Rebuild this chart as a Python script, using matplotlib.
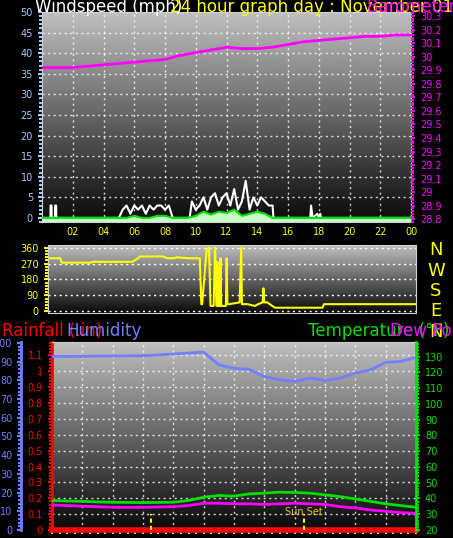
import numpy as np
import matplotlib.pyplot as plt
from matplotlib.ticker import MultipleLocator

W, H = 453, 538

hours = list(range(25))
pressure = [29.92, 29.92, 29.92, 29.93, 29.94, 29.95, 29.96, 29.97, 29.98, 30.01, 30.03, 30.05, 30.07,
            30.06, 30.06, 30.07, 30.09, 30.11, 30.12, 30.13, 30.14, 30.15, 30.15, 30.16, 30.16]

gust_t = [0, 0.55, 0.56, 0.62, 0.63, 0.84, 0.85, 0.92, 0.93,
          5.0, 5.25, 5.5, 5.75, 6.0, 6.25, 6.5, 6.75, 7.0, 7.25, 7.5, 7.75, 8.0, 8.25, 8.5,
          9.6, 9.75, 10.0, 10.25, 10.5, 10.75, 11.0, 11.25, 11.5, 11.75, 12.0, 12.25, 12.5, 12.75,
          13.0, 13.25, 13.5, 13.75, 14.0, 14.25, 14.5, 14.75, 15.0, 15.05,
          17.45, 17.5, 17.6, 17.9, 18.0, 18.1, 18.15, 24]
gust_v = [0, 0, 3, 3, 0, 0, 3, 3, 0,
          0, 2, 3, 1, 3, 2, 3, 1, 3, 2, 3, 3, 2, 3, 0,
          0, 4, 2, 3, 5, 2, 5, 6, 3, 5, 6, 3, 7, 2,
          4, 9, 2, 5, 3, 5, 4, 3, 3, 0,
          0, 3, 0, 1, 0, 1, 0, 0]
avg_t = [0, 5.5, 6.0, 6.5, 7.0, 7.5, 8.0, 8.5, 9.5, 10.0, 10.5, 11.0, 11.5, 12.0, 12.5, 13.0,
         13.5, 14.0, 14.5, 15.0, 24]
avg_v = [0, 0, 0.5, 0, 0, 0.5, 0.5, 0, 0, 0.5, 1.5, 0.8, 1.5, 1.2, 2.0, 0.5, 1.0, 1.5, 1.0, 0, 0]

dir_t = [0, 0.8, 0.9, 2.8, 2.9, 5.5, 5.8, 6.0, 7.5, 7.8, 8.2, 8.4, 9.2, 9.9, 10.0, 10.05, 10.3, 10.35,
         10.5, 10.6, 10.8, 10.9, 11.0, 11.05, 11.1, 11.2, 11.25, 11.3, 11.6, 11.65, 11.7, 11.8, 12.5,
         12.6, 12.65, 12.7, 13.0, 13.5, 13.7, 14.0, 14.05, 14.1, 14.3, 14.8, 17.9, 18.0, 24]
dir_v = [300, 300, 275, 275, 280, 280, 295, 310, 310, 300, 300, 305, 300, 300, 40, 40, 300, 350,
         360, 30, 30, 360, 30, 280, 30, 30, 300, 30, 30, 300, 40, 40, 50, 360, 40, 40, 40, 30, 40, 50,
         130, 50, 50, 20, 20, 40, 40]

humidity = [92.8, 92.8, 92.8, 93.0, 93.0, 93.1, 93.2, 93.6, 94.1, 94.6, 95.1, 88.3, 86.4, 85.9,
            82.0, 80.3, 79.4, 81.2, 79.9, 81.2, 83.8, 85.6, 89.6, 90.1, 92.3]
temperature = [38.7, 38.4, 38.2, 37.8, 37.6, 37.5, 37.4, 37.5, 37.6, 38.7, 40.8, 41.9, 41.5, 42.9,
               43.4, 44.0, 43.8, 43.4, 42.3, 41.2, 39.7, 38.2, 36.6, 35.5, 34.4]
dewpoint = [35.9, 35.5, 35.1, 34.8, 34.4, 34.4, 34.4, 34.6, 34.8, 35.5, 37.0, 37.0, 36.6, 36.6,
            36.2, 36.6, 37.0, 36.6, 36.2, 34.8, 34.0, 32.7, 31.9, 31.0, 30.6]
rain_t = [0, 24]
rain_v = [0, 0]
sun_events = [6.5, 16.6]
hour_labels = ['02', '04', '06', '08', '10', '12', '14', '16', '18', '20', '22', '00']

fig = plt.figure(figsize=(W / 100, H / 100), dpi=100, facecolor='black')


def axes_px(x0, y0, x1, y1):
    return fig.add_axes([x0 / W, 1 - y1 / H, (x1 - x0) / W, (y1 - y0) / H])


def gradient(ax):
    g = np.linspace(0, 1, 256).reshape(-1, 1)
    ax.imshow(g, cmap='gray', vmin=-0.05, vmax=1.35, aspect='auto', extent=[0, 1, 0, 1],
              transform=ax.transAxes, zorder=0, origin='lower')


def style(ax, color):
    ax.set_facecolor('black')
    for s in ax.spines.values():
        s.set_color('#d0d0d0')
    ax.tick_params(colors=color, labelsize=7, length=3, width=1.5)
    ax.tick_params(which='minor', colors=color, length=2, width=1.5)
    ax.set_xlim(0, 24)


def dotted_grid(ax):
    ax.grid(True, color='white', linestyle=(0, (1.5, 2.5)), linewidth=1, alpha=0.8)


# --- wind / pressure panel
ax1 = axes_px(42, 12, 411, 222)
style(ax1, '#a8c8ff')
gradient(ax1)
ax1.set_ylim(-1, 50)
ax1.yaxis.set_major_locator(MultipleLocator(5))
ax1.yaxis.set_minor_locator(MultipleLocator(1))
ax1.set_xticks(range(2, 25, 2))
ax1.set_xticklabels(hour_labels)
ax1.tick_params(axis='x', colors='yellow', length=0)
for lab in ax1.get_xticklabels():
    lab.set_color('yellow')
dotted_grid(ax1)
ax1.axhline(0, color='white', lw=2, zorder=2)
ax1.fill_between(avg_t, -1, avg_v, color='#c8ffc8', zorder=2)
ax1.plot(gust_t, gust_v, color='white', lw=1.5, zorder=3)
ax1.plot(avg_t, avg_v, color='#00e000', lw=1.5, zorder=4)
ax1b = ax1.twinx()
ax1b.set_ylim(28.78, 30.33)
ax1b.yaxis.set_major_locator(MultipleLocator(0.1))
ax1b.yaxis.set_minor_locator(MultipleLocator(0.02))
ax1b.tick_params(colors='magenta', labelsize=7, length=3, width=1.5)
ax1b.tick_params(which='minor', colors='magenta', length=2, width=1.5)
ax1b.yaxis.set_major_formatter(plt.FuncFormatter(lambda v, p: f'{v:.1f}'.replace('30.0', '30').replace('29.0', '29')))
for s in ax1b.spines.values():
    s.set_visible(False)
ax1b.plot(hours, pressure, color='magenta', lw=2)

fig.text(35 / W, 1 - 7 / H, 'Windspeed (mph)', color='white', fontsize=12, va='center')
fig.text(170 / W, 1 - 7 / H, '24 hour graph day : November 01 2025', color='yellow', fontsize=12, va='center')
fig.text(367 / W, 1 - 7 / H, 'Barometer (in)', color='magenta', fontsize=12, va='center')

# --- wind direction panel
ax2 = axes_px(48, 245, 416, 313)
style(ax2, 'yellow')
gradient(ax2)
ax2.set_ylim(-10, 375)
ax2.set_yticks([0, 90, 180, 270, 360])
ax2.yaxis.set_minor_locator(MultipleLocator(18))
ax2.set_xticks([])
ax2.grid(True, axis='y', color='white', linestyle=(0, (1.5, 2.5)), linewidth=1)
ax2.plot(dir_t, dir_v, color='yellow', lw=1.5)
for i, c in enumerate('NWSEN'):
    fig.text(436 / W, 1 - (250 + i * 20.5) / H, c, color='yellow', fontsize=13, ha='center', va='center')

# --- temperature / humidity / rain panel
ax3 = axes_px(52, 342, 416, 530)
style(ax3, 'red')
gradient(ax3)
ax3.set_ylim(0, 1.185)
ax3.yaxis.set_major_locator(MultipleLocator(0.1))
ax3.yaxis.set_minor_locator(MultipleLocator(0.02))
ax3.yaxis.set_major_formatter(plt.FuncFormatter(lambda v, p: f'{v:.1f}'.replace('0.0', '0').replace('1.0', '1')))
ax3.spines['left'].set_color('red')
ax3.spines['left'].set_linewidth(2)
ax3.set_xticks(range(0, 25, 2))
ax3.set_xticks(np.arange(0, 24.1, 0.5), minor=True)
ax3.set_xticklabels([])
ax3.tick_params(axis='x', colors='#d0d0d0', length=3, which='both')
dotted_grid(ax3)
ax3.plot(rain_t, rain_v, color='red', lw=4, zorder=5, clip_on=False)

ax3h = ax3.twinx()
ax3h.spines['left'].set_position(('outward', 22))
ax3h.spines['left'].set_color('#7080ff')
ax3h.spines['left'].set_linewidth(2)
ax3h.yaxis.set_label_position('left')
ax3h.yaxis.set_ticks_position('left')
for k in ('right', 'top', 'bottom'):
    ax3h.spines[k].set_visible(False)
ax3h.set_ylim(0, 100.5)
ax3h.yaxis.set_major_locator(MultipleLocator(10))
ax3h.yaxis.set_minor_locator(MultipleLocator(2))
ax3h.tick_params(colors='#7080ff', labelsize=7, length=3, width=1.5)
ax3h.tick_params(which='minor', colors='#7080ff', length=2, width=1.5)
ax3h.plot(hours, humidity, color='#7080ff', lw=2)

ax3t = ax3.twinx()
for k in ('left', 'top', 'bottom'):
    ax3t.spines[k].set_visible(False)
ax3t.spines['right'].set_color('#00e000')
ax3t.spines['right'].set_linewidth(2)
ax3t.set_ylim(20, 139.3)
ax3t.yaxis.set_major_locator(MultipleLocator(10))
ax3t.yaxis.set_minor_locator(MultipleLocator(2))
ax3t.tick_params(colors='#00e000', labelsize=7, length=3, width=1.5)
ax3t.tick_params(which='minor', colors='#00e000', length=2, width=1.5)
ax3t.plot(hours, temperature, color='#00e000', lw=2)
ax3t.plot(hours, dewpoint, color='magenta', lw=2)
for t in sun_events:
    ax3t.plot([t, t], [20, 30], color='yellow', lw=1.5, linestyle=(0, (2, 1.5)))
ax3t.text(sun_events[1], 31.5, 'Sun Set', color='#e0c020', fontsize=7, ha='center', va='center')

fig.text(2 / W, 1 - 331 / H, 'Rainfall (.in)', color='red', fontsize=12, va='center')
fig.text(66 / W, 1 - 331 / H, 'Humidity', color='#7080ff', fontsize=12, va='center')
fig.text(308 / W, 1 - 331 / H, 'Temperature (°F)', color='#00e000', fontsize=12, va='center')
fig.text(390 / W, 1 - 331 / H, 'Dew Point', color='magenta', fontsize=12, va='center')

fig.savefig('out.png', dpi=100, facecolor='black')
